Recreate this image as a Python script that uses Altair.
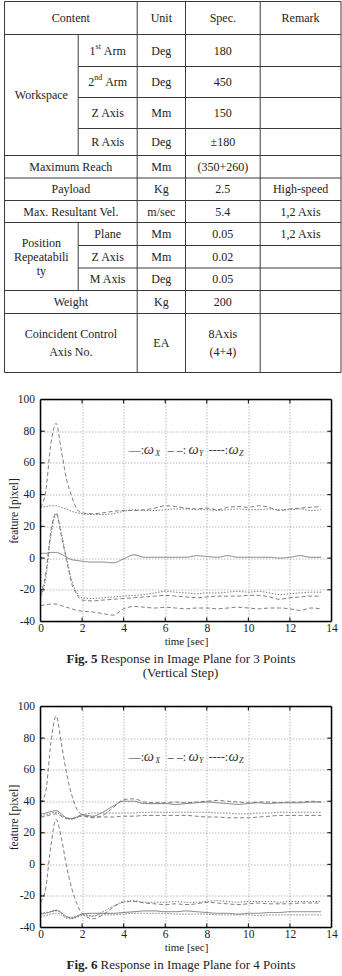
import altair as alt
import pandas as pd
import re

FONT = "Liberation Serif"
INK = "#222222"
RULE_INK = "#3a3a3a"
GRID_INK = "#a8a8a8"
CURVE_INK = "#707070"

# ----------------------------- table content -----------------------------
header_labels = ["Content", "Unit", "Spec.", "Remark"]

workspace_label = "Workspace"
workspace_items = ["1st Arm", "2nd Arm", "Z Axis", "R Axis"]
workspace_units = ["Deg", "Deg", "Mm", "Deg"]
workspace_specs = ["180", "450", "150", "±180"]
workspace_remarks = ["", "", "", ""]

middle_items = ["Maximum Reach", "Payload", "Max. Resultant Vel."]
middle_units = ["Mm", "Kg", "m/sec"]
middle_specs = ["(350+260)", "2.5", "5.4"]
middle_remarks = ["", "High-speed", "1,2 Axis"]

repeat_label = "Position\nRepeatabili\nty"
repeat_items = ["Plane", "Z Axis", "M Axis"]
repeat_units = ["Mm", "Mm", "Deg"]
repeat_specs = ["0.05", "0.02", "0.05"]
repeat_remarks = ["1,2 Axis", "", ""]

final_items = ["Weight", "Coincident Control\nAxis No."]
final_units = ["Kg", "EA"]
final_specs = ["200", "8Axis\n(4+4)"]
final_remarks = ["", ""]

# ----------------------------- figure data -----------------------------
time_sec = [0, 0.25, 0.5, 0.75, 1.0, 1.25, 1.5, 1.75, 2.0, 2.5, 3.0, 3.5, 4.0, 4.5,
            5.0, 5.5, 6.0, 6.5, 7.0, 7.5, 8.0, 8.5, 9.0, 9.5, 10.0, 10.5, 11.0,
            11.5, 12.0, 12.5, 13.0, 13.5]

fig5_names = ["f5a", "f5b", "f5c", "f5d", "f5e", "f5f"]
fig5_styles = ["dash", "dot", "dash", "dot", "solid", "dash"]
fig5_a = [32, 42, 72, 85, 68, 50, 39, 31, 28.5, 28, 28.5, 29.5, 30, 30, 30.5, 31.5,
          33, 32.5, 31.5, 31, 31.5, 30.5, 32, 32.5, 32, 33, 32, 30, 31, 31.5, 32, 32.5]
fig5_b = [32, 32.5, 33, 33, 32, 31, 29.5, 28.5, 28, 27.5, 27.5, 28, 29.5, 30.5, 30, 30,
          30.5, 31, 31, 30.5, 30.5, 30, 30.5, 31, 30.5, 30.5, 31, 30.5, 30.5, 31, 30, 30.5]
fig5_c = [-23, -10, 17, 28.5, 14, -1, -16, -23, -26.5, -27, -26.5, -26, -25.5, -25, -24.5,
          -24, -23.5, -24, -24.5, -25, -24.5, -24, -24, -24, -23.5, -23.5, -24.5, -26, -25,
          -24.5, -24, -24]
fig5_d = [-25, -13, 14, 28, 16, 0, -14, -22, -25, -25.5, -25, -24.5, -24, -23.5, -23, -22,
          -21, -21.5, -22, -22.5, -22, -22, -21.5, -21, -21.5, -21, -22, -23, -22.5, -22,
          -21.5, -21.5]
fig5_e = [3, 3, 3.5, 3.5, 2.5, 0.5, -1, -1.5, -2, -2.5, -2.5, -3, -0.5, 2, 0.5, 0.5, 0.5,
          0.5, 0.5, 1.5, 1, 0.5, 1.5, 0.5, 0.5, 0.5, 0.5, 0, 0.5, 1.5, 0.5, 0.5]
fig5_f = [-30, -29.5, -29, -29, -30, -31, -32, -33, -33.5, -34, -35, -36, -32, -30.5, -31,
          -31.5, -31, -31.5, -32, -31.5, -31.5, -32, -31.5, -31, -31.5, -32, -31.5, -31.5,
          -32, -33, -31.5, -32]
fig5_values = [fig5_a, fig5_b, fig5_c, fig5_d, fig5_e, fig5_f]

fig6_names = ["f6p", "f6q", "f6r", "f6s", "f6t", "f6u", "f6v", "f6w"]
fig6_styles = ["dash", "solid", "dot", "dash", "dash", "dot", "solid", "dot"]
fig6_p = [39, 46, 77, 94, 77, 58, 44, 35, 31.5, 29.5, 31, 36, 41, 41.5, 39.5, 39, 39, 39.5,
          39, 39.5, 40, 40.5, 40, 39.5, 39, 39.5, 39.5, 39, 39.5, 39.5, 40, 39.5]
fig6_q = [32, 32.5, 33.5, 34, 32, 29.5, 29, 30, 31.5, 30.5, 33, 37, 40, 40, 38.5, 38.5,
          38.5, 38, 38.5, 39, 39.5, 39, 38.5, 38, 38.5, 39, 38.5, 39, 39, 39, 39.5, 39.5]
fig6_r = [31, 31.5, 32.5, 33, 31, 29, 28.5, 29.5, 31, 32.5, 32.5, 32.5, 32.5, 32.5, 33, 33,
          33, 33, 33, 33, 33, 32.5, 32.5, 32, 32, 32.5, 32.5, 33, 33, 33, 33, 33]
fig6_s = [30, 30.5, 31.5, 32, 30.5, 29, 29, 30, 30.5, 30, 30, 30, 30.5, 30.5, 31, 31, 31,
          31, 31, 30.5, 30, 30, 29.5, 29.5, 29.5, 30, 30.5, 31, 31, 31, 31, 31]
fig6_t = [-24, -15, 12, 28.5, 17, -1, -15, -25, -31, -34.5, -32, -27, -24, -23.5, -24.5,
          -25, -25.5, -25, -25.5, -25, -24, -24.5, -25, -25.5, -25, -24.5, -25, -25, -25,
          -24.5, -24.5, -24.5]
fig6_u = [-31, -30.5, -30, -29.5, -31, -33.5, -33.5, -32.5, -31.5, -33, -30, -26.5, -23.5,
          -23, -24, -24, -24, -23.5, -24, -24, -23.5, -23, -23.5, -24, -23.5, -23.5, -23.5,
          -24, -23.5, -23.5, -23.5, -23.5]
fig6_v = [-31.5, -31, -30, -29, -30.5, -33, -34, -33, -31.5, -31, -31, -31, -30.5, -30,
          -29.5, -29.5, -30, -30, -29.5, -30, -30.5, -31, -31, -31.5, -31, -31, -30.5,
          -30.5, -30, -30, -30, -30]
fig6_w = [-33, -32.5, -31.5, -31, -32, -34, -34.5, -33.5, -32.5, -32.5, -32, -32, -31.5,
          -31, -31, -31, -31, -31.5, -31.5, -31.5, -31.5, -32, -32, -32, -32, -32.5, -32,
          -32, -32, -32, -32, -32]
fig6_values = [fig6_p, fig6_q, fig6_r, fig6_s, fig6_t, fig6_u, fig6_v, fig6_w]

x_ticks = [0, 2, 4, 6, 8, 10, 12, 14]
y_ticks = [-40, -20, 0, 20, 40, 60, 80, 100]

legend_marks = ["\u2014:", "\u2013 \u2013:", "----:"]
legend_symbol = "\u03c9"
legend_subs = ["X", "Y", "Z"]

fig5_caption = ("Fig. 5", "Response in Image Plane for 3 Points", "(Vertical Step)")
fig6_caption = ("Fig. 6", "Response in Image Plane for 4 Points", None)

# ----------------------------- layout constants -----------------------------
COL_WIDTHS = [73.7, 59.0, 48.3, 74.7, 80.8]
HEADER_H = 33.0
WS_H = [32.0, 31.0, 31.0, 27.0]
MID_H = [22.5, 22.5, 22.0]
REP_H = [23.0, 22.5, 22.5]
FIN_H = [23.0, 59.0]
LEFT_HANG = 36.0          # table units that hang left of the shared plot origin
CELL_LH = 18
GROUP_LH = 14

PLOT_W = 291
FIG5_H = 222
FIG6_H = 221
DASH = {"solid": [1, 0], "dash": [4, 2.5], "dot": [1.5, 1.5]}
LEG_Y = 68
LEG_MARK_T = [4.25, 6.12, 8.10]
LEG_SYM_T = [4.97, 7.12, 9.04]
LEG_SUB_T = [5.52, 7.62, 9.55]
TICK_DX = 0.2
TICK_DY = 2.5
CAP_SIZE = 13

# ----------------------------- table -----------------------------
edges = [0.0]
for w in COL_WIDTHS:
    edges.append(round(edges[-1] + w, 2))
TABLE_W = edges[-1]

cells, group_cells, ord_num, ord_sup, ord_rest = [], [], [], [], []
hrules, vrules = [], []

GLYPH_EM = {"A": .722, "r": .333, "m": .778, " ": .25}
SUP_EM = {"s": .389, "t": .278, "n": .5, "d": .5, "r": .333, "h": .5}


def mid(a, b):
    return (a + b) / 2


def put(lst, x, y, text, lh=CELL_LH):
    # first line sits at y, so lift multi-line blocks to centre them
    n = text.count("\n")
    lst.append({"x": x, "y": y - n * lh / 2, "text": text})


def item_cell(x0, x1, yc, txt):
    m = re.match(r"^(\d)(st|nd|rd|th) (.+)$", txt)
    if not m:
        put(cells, mid(x0, x1), yc, txt)
        return
    num, sup, rest = m.groups()
    num_w = 6.0
    sup_w = sum(SUP_EM.get(c, .5) for c in sup) * 8
    rest_w = sum(GLYPH_EM.get(c, .5) for c in rest) * 12
    gap = 3.0
    start = mid(x0, x1) - (num_w + sup_w + gap + rest_w) / 2
    p = start + num_w
    put(ord_num, p, yc, num)
    put(ord_sup, p, yc, sup)
    put(ord_rest, p + sup_w + gap, yc, rest)


def value_cells(yc, unit, spec, remark):
    for k, txt in zip((2, 3, 4), (unit, spec, remark)):
        if txt:
            put(cells, mid(edges[k], edges[k + 1]), yc, txt)


y_cur = 0.0
hrules.append((0, TABLE_W, 0))
put(cells, mid(edges[0], edges[2]), HEADER_H / 2, header_labels[0])
for k, lab in zip((2, 3, 4), header_labels[1:]):
    put(cells, mid(edges[k], edges[k + 1]), HEADER_H / 2, lab)
y_cur += HEADER_H
hrules.append((0, TABLE_W, y_cur))


def group_block(label, items, units, specs, remarks, heights):
    global y_cur
    top = y_cur
    for j, (it, un, sp, rm, h) in enumerate(zip(items, units, specs, remarks, heights)):
        yc = y_cur + h / 2
        item_cell(edges[1], edges[2], yc, it)
        value_cells(yc, un, sp, rm)
        y_cur += h
        hrules.append((edges[1] if j < len(items) - 1 else 0, TABLE_W, y_cur))
    put(group_cells, mid(edges[0], edges[1]), mid(top, y_cur), label, GROUP_LH)
    vrules.append((edges[1], top, y_cur))


def single_block(items, units, specs, remarks, heights):
    global y_cur
    for it, un, sp, rm, h in zip(items, units, specs, remarks, heights):
        yc = y_cur + h / 2
        put(cells, mid(edges[0], edges[2]), yc, it)
        value_cells(yc, un, sp, rm)
        y_cur += h
        hrules.append((0, TABLE_W, y_cur))


group_block(workspace_label, workspace_items, workspace_units, workspace_specs,
            workspace_remarks, WS_H)
single_block(middle_items, middle_units, middle_specs, middle_remarks, MID_H)
group_block(repeat_label, repeat_items, repeat_units, repeat_specs, repeat_remarks, REP_H)
single_block(final_items, final_units, final_specs, final_remarks, FIN_H)
TABLE_H = y_cur
for k in (0, 2, 3, 4, 5):
    vrules.append((edges[k], 0, TABLE_H))

rule_df = pd.DataFrame(
    [{"x": a, "x2": b, "y": c, "y2": c} for a, b, c in hrules]
    + [{"x": a, "x2": a, "y": b, "y2": c} for a, b, c in vrules]
)
tx = alt.Scale(domain=[LEFT_HANG, TABLE_W], nice=False, zero=False)
ty = alt.Scale(domain=[0, TABLE_H], reverse=True, nice=False, zero=False)


def tpos():
    return dict(x=alt.X("x:Q", scale=tx, axis=None), y=alt.Y("y:Q", scale=ty, axis=None))


t_rules = alt.Chart(rule_df).mark_rule(color=RULE_INK, strokeWidth=1).encode(
    x2="x2:Q", y2="y2:Q", **tpos())
txt_kw = dict(font=FONT, color=INK, baseline="middle")
t_cells = alt.Chart(pd.DataFrame(cells)).mark_text(
    fontSize=12, align="center", lineBreak="\n", lineHeight=CELL_LH, **txt_kw
).encode(text="text:N", **tpos())
t_groups = alt.Chart(pd.DataFrame(group_cells)).mark_text(
    fontSize=12, align="center", lineBreak="\n", lineHeight=GROUP_LH, **txt_kw
).encode(text="text:N", **tpos())
t_num = alt.Chart(pd.DataFrame(ord_num)).mark_text(fontSize=12, align="right", **txt_kw).encode(
    text="text:N", **tpos())
t_sup = alt.Chart(pd.DataFrame(ord_sup)).mark_text(fontSize=8, align="left", dy=-4, **txt_kw).encode(
    text="text:N", **tpos())
t_rest = alt.Chart(pd.DataFrame(ord_rest)).mark_text(fontSize=12, align="left", **txt_kw).encode(
    text="text:N", **tpos())

table = alt.layer(t_rules, t_cells, t_groups, t_num, t_sup, t_rest).properties(
    width=TABLE_W - LEFT_HANG, height=TABLE_H)


# ----------------------------- figures -----------------------------
def figure_panel(names, values, styles, caption, height, spacer=None):
    xs = alt.Scale(domain=[0, 14], nice=False, zero=False)
    ys = alt.Scale(domain=[-40, 100], nice=False, zero=False)
    rows = []
    for name, vals in zip(names, values):
        for t, v in zip(time_sec, vals):
            rows.append({"t": t, "v": v, "s": name})
    df = pd.DataFrame(rows)

    x_axis = alt.Axis(values=x_ticks, title="time [sec]", labelFont=FONT, labelFontSize=11.5,
                      labelColor=INK, labelPadding=1, ticks=False, tickSize=0, domain=False,
                      grid=True, gridColor=GRID_INK, gridDash=[1.5, 1.5], gridWidth=0.8,
                      labelFlush=False, titleFont=FONT, titleFontSize=11,
                      titleFontWeight="normal", titleColor=INK, titlePadding=1.5)
    y_axis = alt.Axis(values=y_ticks, title="feature [pixel]", labelExpr="datum.value + ''",
                      labelFont=FONT, labelFontSize=11.5, labelColor=INK, labelPadding=6,
                      ticks=False, tickSize=0, domain=False, grid=True, gridColor=GRID_INK,
                      gridDash=[1.5, 1.5], gridWidth=0.8, titleFont=FONT, titleFontSize=11.5,
                      titleFontWeight="normal", titleColor=INK, titleX=-26, titleY=height / 2,
                      titleAngle=270, titleAlign="center", titleBaseline="middle")

    def pos(xf="x", yf="y"):
        return dict(x=alt.X(f"{xf}:Q", scale=xs, axis=x_axis),
                    y=alt.Y(f"{yf}:Q", scale=ys, axis=y_axis))

    lines = alt.Chart(df).mark_line(color=CURVE_INK, strokeWidth=0.9, interpolate="monotone").encode(
        strokeDash=alt.StrokeDash("s:N", scale=alt.Scale(domain=names,
                                  range=[DASH[s] for s in styles]), legend=None),
        detail="s:N",
        **pos("t", "v"),
    )

    tick_rows = []
    for yv in y_ticks[1:-1]:
        tick_rows.append({"x": 0, "x2": TICK_DX, "y": yv, "y2": yv})
        tick_rows.append({"x": 14 - TICK_DX, "x2": 14, "y": yv, "y2": yv})
    for xv in x_ticks[1:-1]:
        tick_rows.append({"x": xv, "x2": xv, "y": -40, "y2": -40 + TICK_DY})
        tick_rows.append({"x": xv, "x2": xv, "y": 100 - TICK_DY, "y2": 100})
    ticks = alt.Chart(pd.DataFrame(tick_rows)).mark_rule(color="black", strokeWidth=1).encode(
        x2="x2:Q", y2="y2:Q", **pos())

    frame_rows = [
        {"x": x_ticks[0], "x2": x_ticks[-1], "y": y_ticks[0], "y2": y_ticks[0]},
        {"x": x_ticks[0], "x2": x_ticks[-1], "y": y_ticks[-1], "y2": y_ticks[-1]},
        {"x": x_ticks[0], "x2": x_ticks[0], "y": y_ticks[0], "y2": y_ticks[-1]},
        {"x": x_ticks[-1], "x2": x_ticks[-1], "y": y_ticks[0], "y2": y_ticks[-1]},
    ]
    frame = alt.Chart(pd.DataFrame(frame_rows)).mark_rule(color="black", strokeWidth=1.5).encode(
        x2="x2:Q", y2="y2:Q", **pos())

    leg_txt = dict(font=FONT, color="#333333", baseline="middle", align="left")
    leg_marks = alt.Chart(pd.DataFrame({"x": LEG_MARK_T, "y": [LEG_Y] * 3, "text": legend_marks})
                          ).mark_text(fontSize=12, **leg_txt).encode(text="text:N", **pos())
    leg_sym = alt.Chart(pd.DataFrame({"x": LEG_SYM_T, "y": [LEG_Y] * 3,
                                      "text": [legend_symbol] * 3})
                        ).mark_text(fontSize=14.5, fontStyle="italic", **leg_txt).encode(
        text="text:N", **pos())
    leg_sub = alt.Chart(pd.DataFrame({"x": LEG_SUB_T, "y": [LEG_Y] * 3, "text": legend_subs})
                        ).mark_text(fontSize=8, fontStyle="italic", dy=4, **leg_txt).encode(
        text="text:N", **pos())

    bold, rest, line2 = caption
    cap_y = height + 37
    cap_bold = alt.Chart(pd.DataFrame({"c": [bold]})).mark_text(
        font=FONT, fontSize=CAP_SIZE, fontWeight="bold", color=INK, align="right", baseline="middle"
    ).encode(text="c:N", x=alt.value(57), y=alt.value(cap_y))
    cap_rest = alt.Chart(pd.DataFrame({"c": [rest]})).mark_text(
        font=FONT, fontSize=CAP_SIZE, color=INK, align="left", baseline="middle"
    ).encode(text="c:N", x=alt.value(60), y=alt.value(cap_y))
    layers = [lines, ticks, frame, leg_marks, leg_sym, leg_sub, cap_bold, cap_rest]
    if line2:
        layers.append(alt.Chart(pd.DataFrame({"c": [line2]})).mark_text(
            font=FONT, fontSize=CAP_SIZE, color=INK, align="center", baseline="middle"
        ).encode(text="c:N", x=alt.value(140), y=alt.value(cap_y + 14)))
    if spacer is not None:
        layers.append(alt.Chart(pd.DataFrame({"c": [0]})).mark_rule(opacity=0).encode(
            x=alt.value(0), x2=alt.value(4), y=alt.value(spacer)))
    return alt.layer(*layers).properties(width=PLOT_W, height=height)


fig5 = figure_panel(fig5_names, fig5_values, fig5_styles, fig5_caption, FIG5_H, spacer=FIG5_H + 59)
fig6 = figure_panel(fig6_names, fig6_values, fig6_styles, fig6_caption, FIG6_H)

chart = alt.vconcat(table, fig5, fig6, spacing=20).resolve_scale(
    x="independent", y="independent", strokeDash="independent"
).properties(
    padding={"left": 3.5, "top": 0.5, "right": 0, "bottom": 0}
).configure(background="white").configure_view(stroke=None)

chart.save("out.html", embed_options={"renderer": "svg", "actions": False})
